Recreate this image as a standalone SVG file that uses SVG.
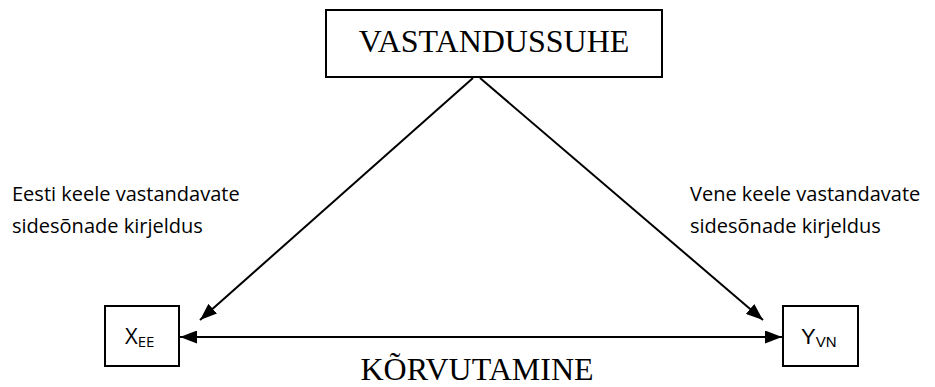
<svg xmlns="http://www.w3.org/2000/svg" width="935" height="387" viewBox="0 0 935 387">
  <style>
    .box { fill: #ffffff; stroke: #000000; stroke-width: 2; }
    .edge { fill: none; stroke: #000000; stroke-width: 2; }
    .serif { font-family: "Liberation Serif", "Times New Roman", serif; font-size: 32px; fill: #000000; }
    .note { font-family: "Open Sans", "Noto Sans", sans-serif; font-size: 20px; fill: #000000; }
    .sym { font-family: "Open Sans", "Noto Sans", sans-serif; font-size: 22px; fill: #000000; }
    .symA { font-family: "Liberation Sans", Arial, sans-serif; font-size: 22px; fill: #000000; }
  </style>
  <defs>
    <marker id="head" viewBox="0 0 17 13" refX="17" refY="6.5" markerWidth="17" markerHeight="13" markerUnits="userSpaceOnUse" orient="auto-start-reverse">
      <path d="M0,0 L17,6.5 L0,13 Z" fill="#000000"/>
    </marker>
  </defs>

  <!-- connectors -->
  <g id="connectors">
    <line class="edge" x1="473" y1="78" x2="200" y2="320" marker-end="url(#head)"/>
    <line class="edge" x1="480" y1="78" x2="763" y2="320" marker-end="url(#head)"/>
    <line class="edge" x1="180" y1="337" x2="782" y2="337" marker-start="url(#head)" marker-end="url(#head)"/>
  </g>

  <!-- top node -->
  <g id="vastandussuhe">
    <rect class="box" x="326" y="10" width="336" height="67"/>
    <text class="serif" x="494" y="52" text-anchor="middle">VASTANDUSSUHE</text>
  </g>

  <!-- left node -->
  <g id="x-ee">
    <rect class="box" x="105" y="306" width="74" height="60"/>
    <text class="sym" x="125" y="344">X<tspan font-size="15" dy="3">EE</tspan></text>
  </g>

  <!-- right node -->
  <g id="y-vn">
    <rect class="box" x="783" y="306" width="75" height="60"/>
    <text class="symA" x="801" y="344">Y<tspan font-size="15" dy="3">VN</tspan></text>
  </g>

  <!-- side descriptions -->
  <g id="left-label">
    <text class="note" x="12" y="201">Eesti keele vastandavate</text>
    <text class="note" x="12" y="233">sidesõnade kirjeldus</text>
  </g>
  <g id="right-label">
    <text class="note" x="690" y="201">Vene keele vastandavate</text>
    <text class="note" x="690" y="233">sidesõnade kirjeldus</text>
  </g>

  <!-- bottom label -->
  <g id="korvutamine">
    <text class="serif" x="477" y="380" text-anchor="middle">KÕRVUTAMINE</text>
  </g>
</svg>
